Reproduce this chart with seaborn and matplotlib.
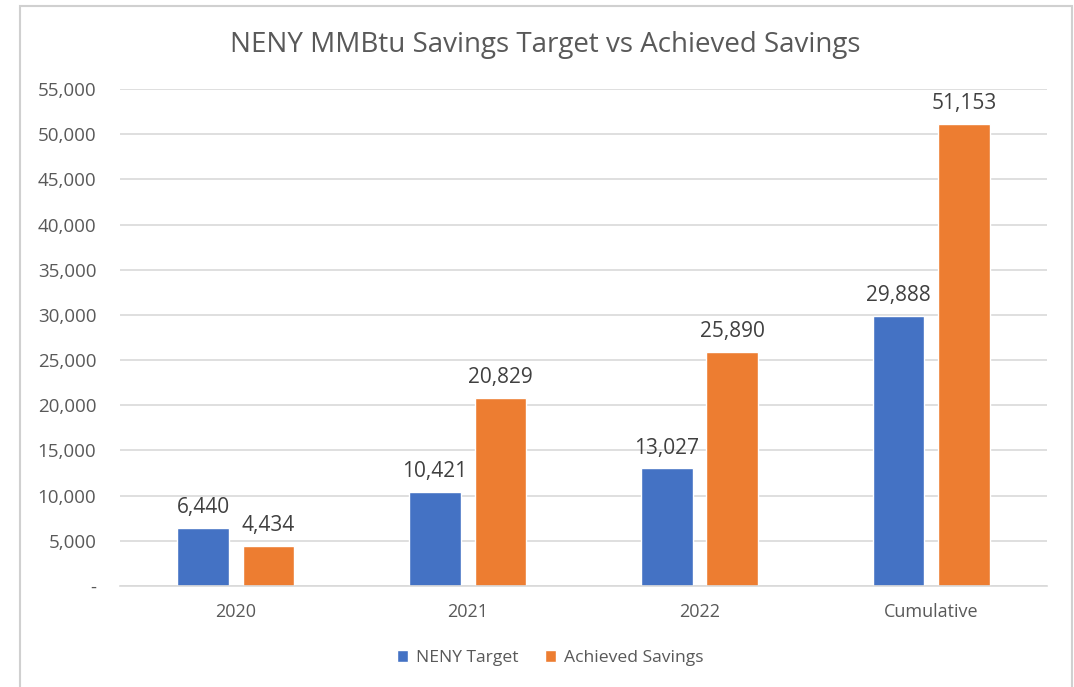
import matplotlib.pyplot as plt
import matplotlib.ticker as mticker
from matplotlib.patches import Rectangle
import pandas as pd
import seaborn as sns

categories = ['2020', '2021', '2022', 'Cumulative']
target = [6440, 10421, 13027, 29888]
achieved = [4434, 20829, 25890, 51153]
series_names = ['NENY Target', 'Achieved Savings']
colors = ['#4472C4', '#ED7D31']

df = pd.DataFrame({
    'Category': categories * 2,
    'Value': target + achieved,
    'Series': [series_names[0]] * 4 + [series_names[1]] * 4,
})

sns.set_style('white')
plt.rcParams['font.family'] = ['Open Sans', 'DejaVu Sans']
grey = '#595959'

fig = plt.figure(figsize=(10.74, 6.87), dpi=100)
ax = fig.add_axes([0.1117, 0.147, 0.8633, 0.7235])

sns.barplot(data=df, x='Category', y='Value', hue='Series', palette=colors,
            width=0.565, gap=0.21, ax=ax, saturation=1, legend=True)

# outer chart border
fig.patches.append(Rectangle((20 / 1074, -0.01), 1052 / 1074, 1 - 6 / 687 + 0.01,
                             transform=fig.transFigure, fill=False,
                             edgecolor='#d0d0d0', linewidth=1.5))

ax.set_ylim(0, 55000)
ax.set_xlim(-0.5, 3.5)
ax.set_yticks(range(0, 55001, 5000))
ax.yaxis.set_major_formatter(mticker.FuncFormatter(
    lambda v, p: '-' if v == 0 else f'{int(v):,}'))
ax.grid(axis='y', color='#d9d9d9', linewidth=1.2)
ax.set_axisbelow(True)
for s in ['top', 'right', 'left']:
    ax.spines[s].set_visible(False)
ax.spines['bottom'].set_color('#d9d9d9')
ax.spines['bottom'].set_linewidth(1.2)
ax.tick_params(axis='x', length=0, labelsize=13, colors=grey, pad=12)
ax.tick_params(axis='y', length=0, labelsize=13.5, colors=grey, pad=17)
ax.set_xlabel('')
ax.set_ylabel('')

for c in ax.containers:
    ax.bar_label(c, labels=[f'{int(v):,}' for v in c.datavalues],
                 padding=7, fontsize=15, color='#404040')

fig.suptitle('NENY MMBtu Savings Target vs Achieved Savings', x=0.508, y=0.955,
             fontsize=20, color=grey)

ax.legend(loc='center', bbox_to_anchor=(0.464, -0.145), ncol=2, frameon=False,
          fontsize=12.6, labelcolor=grey, handlelength=0.63, handleheight=0.63,
          handletextpad=0.45, columnspacing=1.55)

plt.savefig('out.png', dpi=100)
plt.close()
